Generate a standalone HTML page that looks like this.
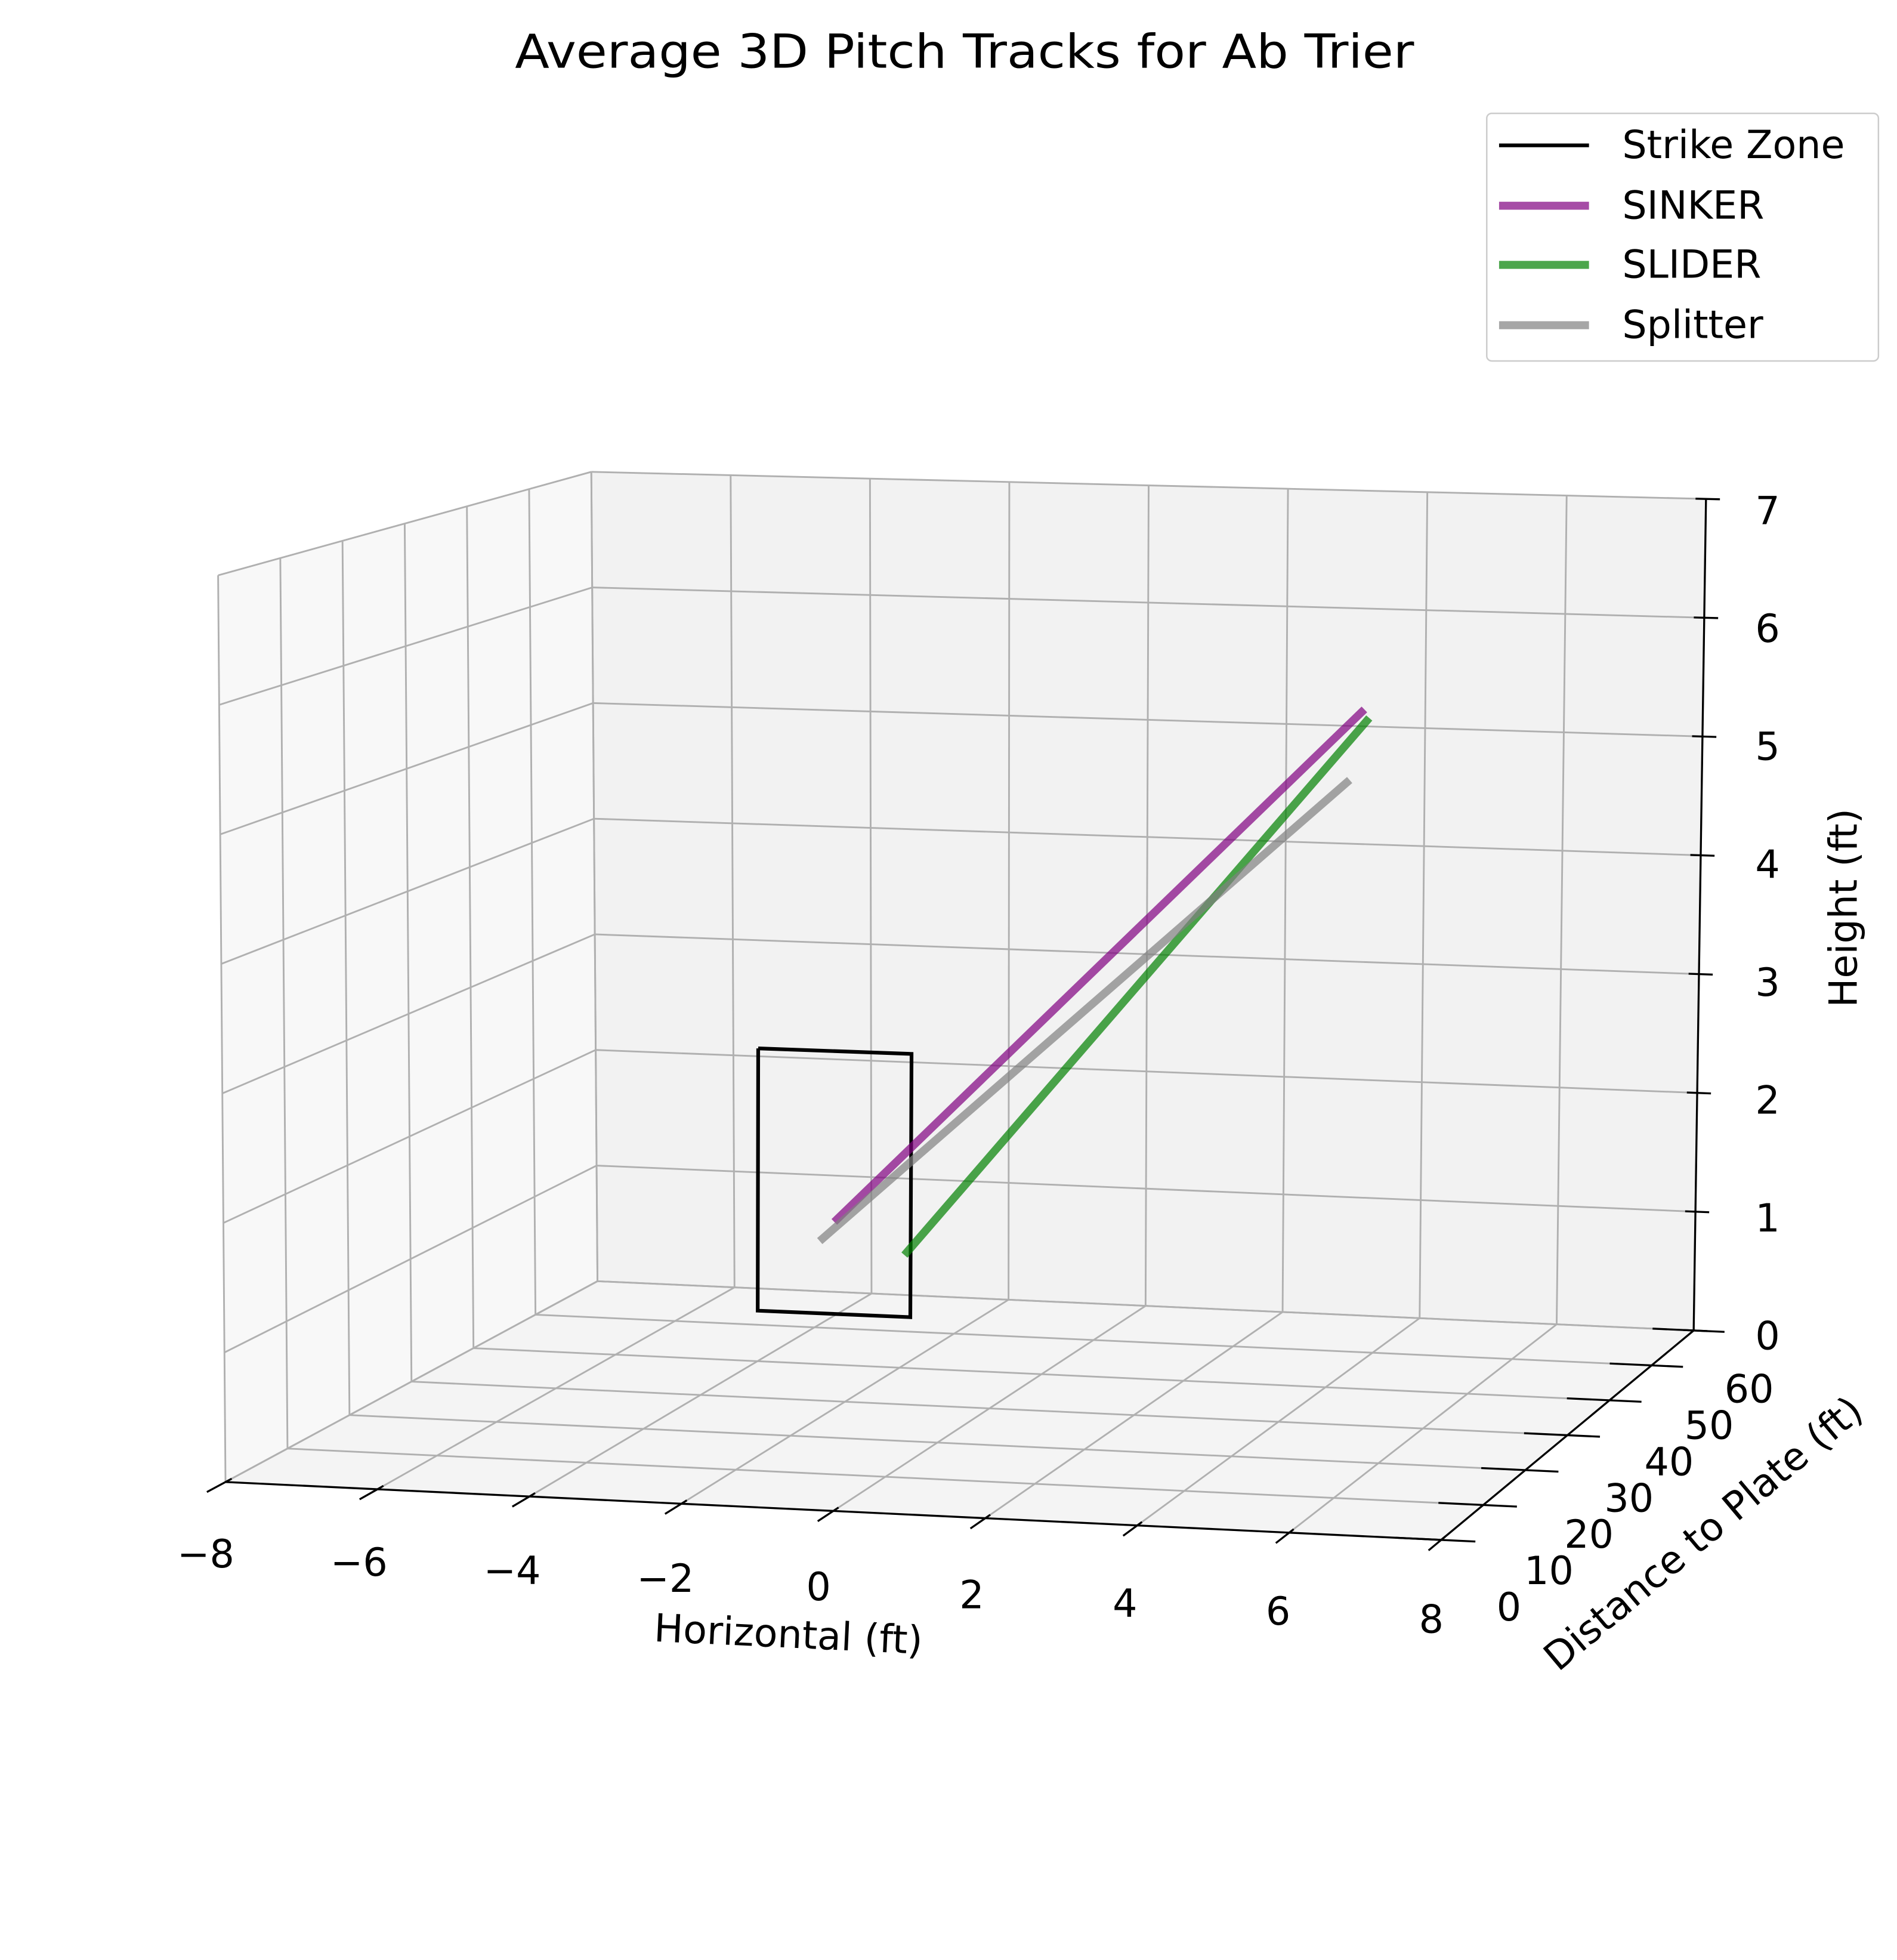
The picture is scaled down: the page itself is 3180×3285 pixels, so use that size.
<!DOCTYPE html>
<html><head><meta charset="utf-8"><style>
html,body{margin:0;padding:0;background:#fff;}
svg{display:block;font-family:"DejaVu Sans","Liberation Sans",sans-serif;}
</style></head><body>
<svg id="chart" xmlns="http://www.w3.org/2000/svg" width="3180" height="3285" viewBox="0 0 1540 1591">
<rect x="0" y="0" width="1540" height="1591" fill="#fff"/>
<text x="783" y="42" text-anchor="middle" dominant-baseline="central" font-size="38" textLength="730" lengthAdjust="spacingAndGlyphs" fill="#000">Average 3D Pitch Tracks for Ab Trier</text>
<g id="panes"></g>
<g id="grid"></g>
<g id="axes"></g>
<g id="series"></g>
<text x="640" y="1327" text-anchor="middle" dominant-baseline="central" font-size="31.5" transform="rotate(2.7 640 1327)">Horizontal (ft)</text>
<text x="1497" y="737" text-anchor="middle" dominant-baseline="central" font-size="31.5" transform="rotate(-90 1497 737)">Height (ft)</text>
<text x="1383" y="1245" text-anchor="middle" dominant-baseline="central" font-size="31.5" transform="rotate(-40 1383 1245)">Distance to Plate (ft)</text>
<g font-size="31.5">
<rect x="1207" y="92" width="318" height="201" rx="4" fill="#fff" fill-opacity="0.8" stroke="#ccc" stroke-width="1.2"/>
<g><line x1="1217" y1="118" x2="1290" y2="118" stroke="#000" stroke-width="3"/><text x="1317" y="118" dominant-baseline="central">Strike Zone</text></g>
<g><line x1="1217" y1="167" x2="1290" y2="167" stroke="purple" stroke-opacity="0.7" stroke-width="6.5"/><text x="1317" y="167" dominant-baseline="central">SINKER</text></g>
<g><line x1="1217" y1="215" x2="1290" y2="215" stroke="green" stroke-opacity="0.7" stroke-width="6.5"/><text x="1317" y="215" dominant-baseline="central">SLIDER</text></g>
<g><line x1="1217" y1="264" x2="1290" y2="264" stroke="gray" stroke-opacity="0.7" stroke-width="6.5"/><text x="1317" y="264" dominant-baseline="central">Splitter</text></g>
</g>
</svg>
<script>
const xTicks=[-8,-6,-4,-2,0,2,4,6,8];
const yTicks=[0,10,20,30,40,50,60];
const zTicks=[0,1,2,3,4,5,6,7];
const seriesNames=["SINKER","SLIDER","Splitter"];
const seriesColors=["purple","green","gray"];
const plateX=[0.0,0.92,-0.19];
const plateY=[0,0,0];
const plateZ=[2.2,1.97,2.05];
const releaseX=[3.8,3.87,3.6];
const releaseY=[50,50,50];
const releaseZ=[5.34,5.27,4.75];
const zoneX=[-1,1,1,-1,-1];
const zoneZ=[3.5,3.5,1.5,1.5,3.5];
const zoneY=[0,0,0,0,0];
const C={f00:[183,1203],f01:[1170,1250],f10:[177,467],f11:[1181,493],b00:[485,1040],b01:[1375,1080],b10:[480,383],b11:[1385,405]};
function L(a,b,t){return [a[0]+(b[0]-a[0])*t,a[1]+(b[1]-a[1])*t];}
function P(x,y,z){const u=(x+8)/16,v=y/60,w=z/7;
const fb=L(C.f00,C.f01,u),ft=L(C.f10,C.f11,u),bb=L(C.b00,C.b01,u),bt=L(C.b10,C.b11,u);
return L(L(fb,ft,w),L(bb,bt,w),v);}
const NS="http://www.w3.org/2000/svg";
function mk(tag,attrs,parent){const e=document.createElementNS(NS,tag);for(const k in attrs)e.setAttribute(k,attrs[k]);parent.appendChild(e);return e;}
function poly(pts){return pts.map(p=>p[0].toFixed(1)+","+p[1].toFixed(1)).join(" ");}
const panes=document.getElementById('panes'),grid=document.getElementById('grid'),axes=document.getElementById('axes'),series=document.getElementById('series');
let e;
e=mk('polygon',{points:poly([P(-8,0,0),P(8,0,0),P(8,60,0),P(-8,60,0)]),fill:'#f4f4f4'},panes);


e=mk('polygon',{points:poly([P(-8,0,0),P(-8,60,0),P(-8,60,7),P(-8,0,7)]),fill:'#f8f8f8'},panes);


e=mk('polygon',{points:poly([P(-8,60,0),P(8,60,0),P(8,60,7),P(-8,60,7)]),fill:'#f2f2f2'},panes);


const gs={stroke:'#b0b0b0','stroke-width':1.4,fill:'none'};
function gl(a,b,name){const l=mk('line',Object.assign({x1:a[0],y1:a[1],x2:b[0],y2:b[1]},gs),grid);}
xTicks.forEach(x=>{gl(P(x,0,0),P(x,60,0),'floor-gridline-x');gl(P(x,60,0),P(x,60,7),'back-gridline-x');});
yTicks.forEach(y=>{gl(P(-8,y,0),P(8,y,0),'floor-gridline-y');gl(P(-8,y,0),P(-8,y,7),'left-gridline-y');});
zTicks.forEach(z=>{gl(P(-8,0,z),P(-8,60,z),'left-gridline-z');gl(P(-8,60,z),P(8,60,z),'back-gridline-z');});
function al(a,b,name){const l=mk('line',{x1:a[0],y1:a[1],x2:b[0],y2:b[1],stroke:'#000','stroke-width':1.6},axes);}
al(P(-8,0,0),P(8,0,0),'x-axis-line');
al(P(8,0,0),P(8,60,0),'y-axis-line');
al(P(8,60,0),P(8,60,7),'z-axis-line');
xTicks.forEach(x=>{const a=P(x,0,0),b=P(x,-3,0),c=P(x,1,0);al(c,b,'x-tick');
const f=(x+8)/16;
const t=mk('text',{x:a[0]-16+8*f,y:a[1]+59+6*f,'text-anchor':'middle','dominant-baseline':'central','font-size':31.5},axes);t.textContent=(x<0?'\u2212'+(-x):''+x);});
yTicks.forEach(y=>{const a=P(8,y,0),b=P(7.4,y,0),c=P(8.45,y,0);al(b,c,'y-tick');
const f=y/60;
const t=mk('text',{x:a[0]+55-10*f,y:a[1]+55-7*f,'text-anchor':'middle','dominant-baseline':'central','font-size':31.5},axes);t.textContent=''+y;});
zTicks.forEach(z=>{const a=P(8,60,z),b=P(8.2,60,z),c=P(7.85,60,z);al(c,b,'z-tick');
const f=z/7;
const t=mk('text',{x:a[0]+60-10*f,y:a[1]+5+5*f,'text-anchor':'middle','dominant-baseline':'central','font-size':31.5},axes);t.textContent=''+z;});
const zp=zoneX.map((x,i)=>P(x,zoneY[i],zoneZ[i]));
e=mk('polyline',{points:poly(zp),fill:'none',stroke:'#000','stroke-width':3},series);


seriesNames.forEach((n,i)=>{const a=P(plateX[i],plateY[i],plateZ[i]),b=P(releaseX[i],releaseY[i],releaseZ[i]);
const l=mk('line',{x1:a[0],y1:a[1],x2:b[0],y2:b[1],stroke:seriesColors[i],'stroke-opacity':0.7,'stroke-width':6.5},series);

});
</script>
</body></html>
